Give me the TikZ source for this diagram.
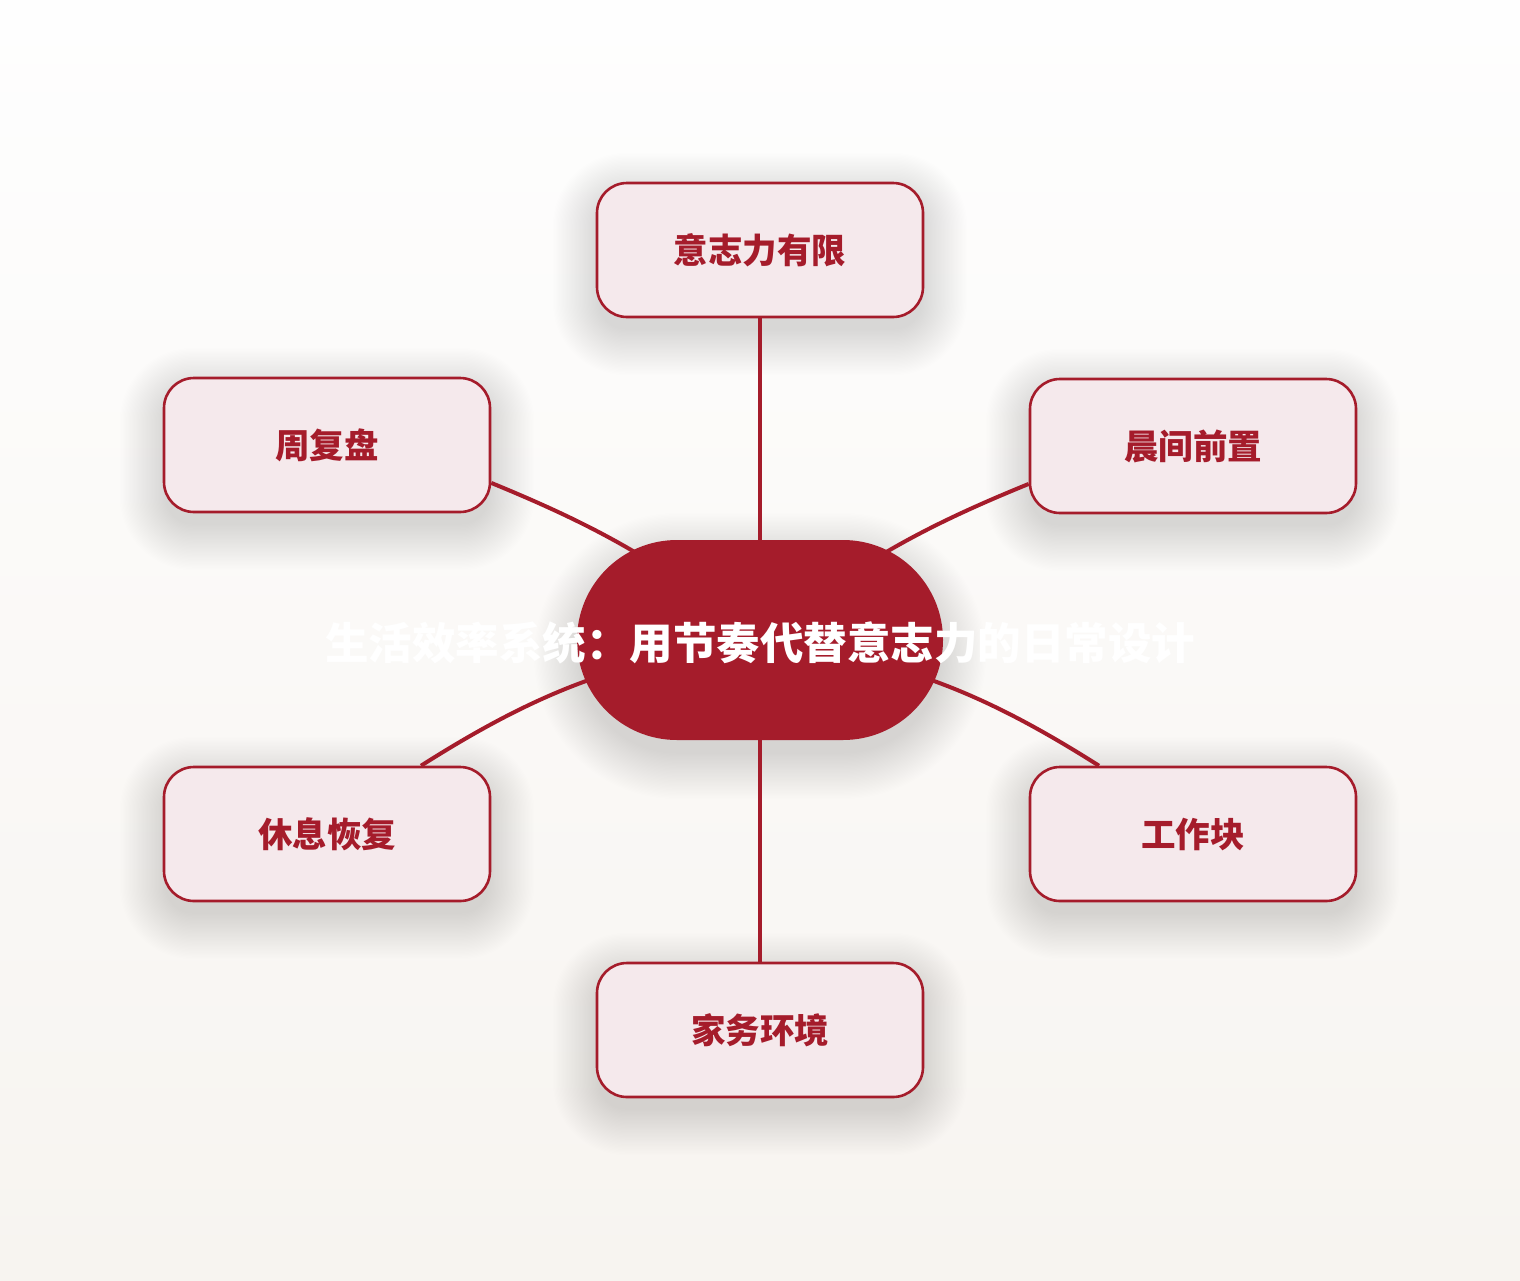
\documentclass[tikz,border=0pt]{standalone}
\usepackage{fontspec}
\newfontfamily\cjk{Noto Sans CJK SC}
\usetikzlibrary{calc}
\definecolor{deepred}{HTML}{A51C2B}
\definecolor{boxfill}{HTML}{F5E9EC}
\definecolor{bgtop}{HTML}{FEFEFE}
\definecolor{bgbot}{HTML}{F7F4F0}
\pgfdeclarelayer{bgl}
\pgfdeclarelayer{shade}
\pgfdeclarelayer{lines}
\pgfsetlayers{bgl,shade,lines,main}
\tikzset{
  leaf/.style={draw=deepred, line width=2.6pt, fill=boxfill, rounded corners=30pt,
    minimum width=326pt, minimum height=134pt, inner sep=0pt,
    text=deepred, font=\cjk\bfseries\fontsize{34.5}{40}\selectfont},
  hub/.style={fill=deepred, rounded corners=100pt, minimum width=366pt, minimum height=200pt, inner sep=0pt},
  hubtext/.style={text=white, font=\cjk\bfseries\fontsize{43.5}{50}\selectfont, inner sep=0pt},
  link/.style={draw=deepred, line width=4pt},
  shadestep/.style={fill=black, opacity=0.0052}
}
\newcommand\dropshade[3]{%
  \foreach \i in {1,...,36}{%
    \pgfmathsetmacro\dd{1.3*\i-4}%
    \pgfmathsetmacro\rr{max(#2+\dd,2)}%
    \fill[shadestep, rounded corners=\rr pt]
      ($(#1.south west)+(-\dd,#3+\dd)$) rectangle ($(#1.north east)+(\dd,#3-\dd)$);
  }}
\begin{document}
\begin{tikzpicture}[x=1pt,y=-1pt]
\useasboundingbox (0,0) rectangle (1520,1280);
\begin{pgfonlayer}{bgl}
\shade[top color=bgtop, bottom color=bgbot] (0,0) rectangle (1520,1280);
\end{pgfonlayer}
\node[hub] (c) at (760,640) {};
\node[leaf] (t) at (760,250) {意志力有限};
\node[leaf] (tl) at (327,445) {周复盘};
\node[leaf] (tr) at (1193,446) {晨间前置};
\node[leaf] (bl) at (327,834) {休息恢复};
\node[leaf] (br) at (1193,834) {工作块};
\node[leaf] (b) at (760,1030) {家务环境};
\node[hubtext] (title) at (760,643) {生活效率系统：用节奏代替意志力的日常设计};
\begin{pgfonlayer}{shade}
\dropshade{c}{100}{16}
\dropshade{t}{30}{14}
\dropshade{tl}{30}{14}
\dropshade{tr}{30}{14}
\dropshade{bl}{30}{14}
\dropshade{br}{30}{14}
\dropshade{b}{30}{14}
\end{pgfonlayer}
\begin{pgfonlayer}{lines}
\draw[link] (c.center) -- (t.south);
\draw[link] (c.center) -- (b.north);
\draw[link] (c.center) to[bend right=8] (tl.-13.5);
\draw[link] (c.center) to[bend left=8] (tr.193.8);
\draw[link] (c.center) to[bend right=12] (bl.36);
\draw[link] (c.center) to[bend left=12] (br.144.2);
\end{pgfonlayer}
\end{tikzpicture}
\end{document}
